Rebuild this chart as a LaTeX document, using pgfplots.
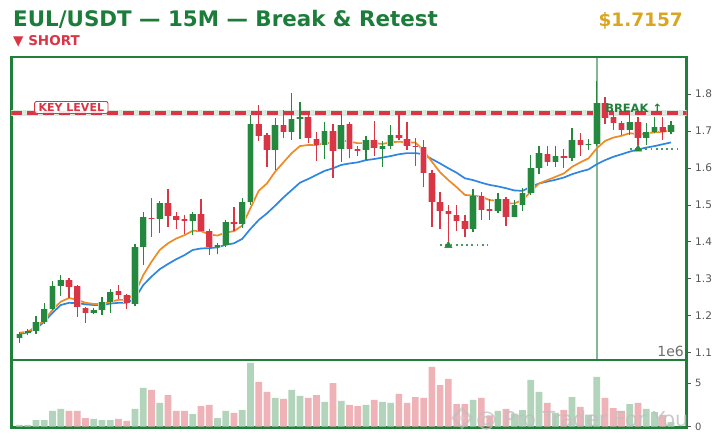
\documentclass[border=0pt]{standalone}
\usepackage{fontspec}
\setmainfont{DejaVu Sans}
\usepackage{pgfplots}
\usepackage{pgfplotstable}
\pgfplotsset{compat=1.18}
\usetikzlibrary{shapes.geometric}

\definecolor{titleG}{HTML}{1C7C3A}
\definecolor{frameG}{HTML}{1F7F3B}
\definecolor{cG}{HTML}{24883F}
\definecolor{cGl}{HTML}{BFDDC6}
\definecolor{cR}{HTML}{DA3545}
\definecolor{cRl}{HTML}{F2C0C4}
\definecolor{vG}{HTML}{B2D4BA}
\definecolor{vR}{HTML}{EEB2B7}
\definecolor{emaO}{HTML}{EE8B24}
\definecolor{emaB}{HTML}{2F86E0}
\definecolor{tickgray}{HTML}{555555}
\definecolor{keyband}{HTML}{DCE9DF}
\definecolor{gold}{HTML}{DAA520}

\pgfplotstableread{
i o h l c
0 1.141 1.157 1.127 1.151
1 1.154 1.164 1.147 1.160
2 1.160 1.199 1.151 1.182
3 1.184 1.234 1.178 1.218
4 1.219 1.294 1.216 1.281
5 1.281 1.309 1.254 1.297
9 1.208 1.221 1.205 1.216
10 1.216 1.252 1.203 1.236
11 1.238 1.272 1.207 1.264
14 1.233 1.393 1.226 1.385
15 1.387 1.481 1.338 1.467
17 1.463 1.511 1.425 1.505
21 1.457 1.482 1.419 1.476
24 1.386 1.396 1.366 1.392
25 1.392 1.459 1.387 1.455
27 1.447 1.518 1.437 1.509
28 1.509 1.743 1.500 1.719
31 1.649 1.736 1.594 1.716
33 1.698 1.803 1.676 1.732
34 1.732 1.779 1.678 1.738
37 1.662 1.725 1.624 1.700
39 1.650 1.743 1.617 1.716
42 1.649 1.685 1.621 1.676
44 1.652 1.673 1.603 1.658
45 1.658 1.716 1.651 1.689
55 1.435 1.543 1.426 1.524
58 1.484 1.533 1.477 1.516
60 1.468 1.513 1.466 1.500
61 1.500 1.545 1.483 1.533
62 1.531 1.635 1.527 1.601
63 1.601 1.658 1.583 1.640
65 1.615 1.658 1.603 1.633
67 1.626 1.709 1.619 1.676
69 1.662 1.678 1.649 1.666
70 1.666 1.834 1.660 1.775
74 1.703 1.743 1.689 1.725
76 1.682 1.721 1.662 1.698
77 1.698 1.737 1.694 1.712
79 1.698 1.727 1.691 1.716
}\greenC

\pgfplotstableread{
i o h l c
6 1.297 1.301 1.247 1.279
7 1.280 1.283 1.196 1.225
8 1.221 1.225 1.181 1.208
12 1.267 1.282 1.245 1.257
13 1.256 1.259 1.217 1.234
16 1.465 1.519 1.414 1.462
18 1.505 1.542 1.441 1.471
19 1.470 1.482 1.435 1.459
20 1.462 1.473 1.421 1.457
22 1.476 1.516 1.428 1.429
23 1.429 1.435 1.364 1.387
26 1.455 1.494 1.428 1.447
29 1.719 1.770 1.673 1.687
30 1.689 1.694 1.603 1.649
32 1.716 1.757 1.680 1.698
35 1.738 1.752 1.667 1.680
36 1.678 1.698 1.619 1.662
38 1.700 1.718 1.574 1.646
40 1.718 1.723 1.626 1.650
41 1.652 1.658 1.633 1.647
43 1.676 1.727 1.631 1.655
46 1.689 1.748 1.676 1.680
47 1.678 1.725 1.649 1.660
48 1.660 1.680 1.606 1.657
49 1.657 1.676 1.547 1.587
50 1.587 1.594 1.441 1.509
51 1.509 1.536 1.434 1.484
52 1.484 1.500 1.402 1.474
53 1.473 1.500 1.430 1.457
54 1.456 1.473 1.414 1.435
56 1.524 1.534 1.459 1.486
57 1.488 1.515 1.459 1.484
59 1.516 1.522 1.444 1.468
64 1.637 1.659 1.606 1.615
66 1.633 1.651 1.601 1.626
68 1.676 1.694 1.633 1.662
71 1.775 1.793 1.718 1.736
72 1.739 1.752 1.703 1.721
73 1.721 1.727 1.689 1.703
75 1.725 1.739 1.662 1.682
78 1.712 1.737 1.676 1.698
}\redC

\pgfplotstableread{
i v
0 0.20
1 0.20
2 0.77
3 0.77
4 1.81
5 2.04
9 0.89
10 0.77
11 0.77
14 2.04
15 4.46
17 2.73
21 1.46
24 1.00
25 1.81
27 1.92
28 7.34
31 3.31
33 4.23
34 3.54
37 2.85
39 2.96
42 2.50
44 2.85
45 2.73
55 3.08
58 1.81
60 1.50
61 1.90
62 5.38
63 4.00
65 1.60
67 3.42
69 1.40
70 5.73
74 2.61
76 2.04
77 1.69
79 0.54
}\volG

\pgfplotstableread{
i v
6 1.81
7 1.81
8 1.00
12 0.89
13 0.66
16 4.23
18 3.65
19 1.81
20 1.81
22 2.38
23 2.50
26 1.58
29 5.15
30 4.00
32 3.19
35 3.31
36 3.65
38 5.03
40 2.50
41 2.38
43 3.08
46 3.77
47 2.73
48 3.42
49 3.31
50 6.88
51 4.80
52 5.50
53 2.61
54 2.61
56 3.31
57 1.30
59 2.04
64 2.73
66 1.92
68 2.27
71 3.31
72 2.15
73 1.81
75 2.73
78 1.35
}\volR

\pgfplotstableread{
i f s
0 1.154 1.150
1 1.157 1.155
2 1.170 1.165
3 1.188 1.184
4 1.216 1.208
5 1.238 1.229
6 1.248 1.235
7 1.243 1.234
8 1.235 1.231
9 1.232 1.229
10 1.232 1.229
11 1.238 1.233
12 1.243 1.235
13 1.243 1.235
14 1.261 1.247
15 1.310 1.283
16 1.346 1.306
17 1.378 1.326
18 1.396 1.340
19 1.409 1.353
20 1.418 1.364
21 1.430 1.378
22 1.429 1.382
23 1.420 1.383
24 1.417 1.385
25 1.425 1.392
26 1.429 1.396
27 1.444 1.408
28 1.491 1.435
29 1.538 1.459
30 1.558 1.477
31 1.590 1.498
32 1.615 1.520
33 1.640 1.540
34 1.659 1.560
35 1.662 1.570
36 1.662 1.581
37 1.667 1.592
38 1.668 1.599
39 1.675 1.608
40 1.671 1.612
41 1.667 1.615
42 1.667 1.621
43 1.667 1.624
44 1.665 1.628
45 1.669 1.632
46 1.671 1.637
47 1.669 1.640
48 1.669 1.640
49 1.646 1.637
50 1.617 1.624
51 1.588 1.612
52 1.567 1.599
53 1.548 1.587
54 1.527 1.572
55 1.525 1.567
56 1.522 1.560
57 1.513 1.554
58 1.511 1.550
59 1.504 1.545
60 1.504 1.539
61 1.513 1.538
62 1.536 1.549
63 1.558 1.558
64 1.567 1.563
65 1.576 1.568
66 1.585 1.574
67 1.603 1.583
68 1.615 1.590
69 1.626 1.596
70 1.653 1.610
71 1.673 1.621
72 1.682 1.630
73 1.687 1.637
74 1.694 1.644
75 1.691 1.650
76 1.694 1.655
77 1.696 1.659
78 1.698 1.664
79 1.701 1.669
}\ema

\begin{document}
\begin{tikzpicture}[x=1pt,y=1pt]
\path[use as bounding box, fill=white] (0,0) rectangle (724,443);

% titles
\node[anchor=base west, inner sep=0pt, text=titleG, font=\fontsize{21.4}{24}\selectfont\bfseries] at (13,416) {EUL/USDT — 15M — Break \& Retest};
\node[anchor=base east, inner sep=0pt, text=gold, font=\fontsize{18.5}{22}\selectfont\bfseries] at (683,416) {\$1.7157};
\node[anchor=base west, inner sep=0pt, text=cR, font=\fontsize{13.5}{16}\selectfont\bfseries] at (13,397) {▼ SHORT};

% main price panel
\begin{axis}[
  at={(11.3pt,83pt)}, anchor=south west,
  scale only axis, width=675.4pt, height=303pt,
  xmin=-1, xmax=80.9, ymin=1.0803, ymax=1.9001,
  xtick=\empty,
  ytick={1.1,1.2,1.3,1.4,1.5,1.6,1.7,1.8},
  ytick pos=right, yticklabel pos=right,
  tick align=outside, major tick length=4pt,
  tick style={color=tickgray, line width=0.7pt},
  yticklabel style={font=\fontsize{10.5}{12}\selectfont, text=tickgray, xshift=1pt},
  /pgf/number format/assume math mode=true,
  /pgf/number format/fixed, /pgf/number format/precision=1,
  axis line style={draw=frameG, line width=2.7pt},
  clip mode=individual,
]
% breakout vertical line
\addplot[forget plot, line width=2.5pt, color=frameG, opacity=0.55] coordinates {(70,1.0803) (70,1.9001)};
% key level
\addplot[forget plot, line width=6pt, color=keyband] coordinates {(-1,1.7486) (80.9,1.7486)};
\addplot[forget plot, line width=3.2pt, color=cR, dash pattern=on 11pt off 5pt] coordinates {(-1,1.7486) (80.9,1.7486)};
% EMAs
\addplot[forget plot, line width=1.7pt, color=emaB] table[x=i, y=s] {\ema};
\addplot[forget plot, line width=1.7pt, color=emaO] table[x=i, y=f] {\ema};
% wicks
\addplot[forget plot, draw=none, error bars/.cd, y dir=plus, y explicit, error mark=none,
  error bar style={draw=cG, line width=1.3pt}] table[x=i, y=l, y error plus expr=\thisrow{h}-\thisrow{l}] {\greenC};
\addplot[forget plot, draw=none, error bars/.cd, y dir=plus, y explicit, error mark=none,
  error bar style={draw=cR, line width=1.3pt}] table[x=i, y=l, y error plus expr=\thisrow{h}-\thisrow{l}] {\redC};
% body halos
\addplot[forget plot, draw=none, error bars/.cd, y dir=plus, y explicit, error mark=none,
  error bar style={draw=cGl, line width=7.4pt}] table[x=i, y=o, y error plus expr=\thisrow{c}-\thisrow{o}] {\greenC};
\addplot[forget plot, draw=none, error bars/.cd, y dir=plus, y explicit, error mark=none,
  error bar style={draw=cRl, line width=7.4pt}] table[x=i, y=c, y error plus expr=\thisrow{o}-\thisrow{c}] {\redC};
% bodies
\addplot[forget plot, draw=none, error bars/.cd, y dir=plus, y explicit, error mark=none,
  error bar style={draw=cG, line width=5.6pt}] table[x=i, y=o, y error plus expr=\thisrow{c}-\thisrow{o}] {\greenC};
\addplot[forget plot, draw=none, error bars/.cd, y dir=plus, y explicit, error mark=none,
  error bar style={draw=cR, line width=5.6pt}] table[x=i, y=c, y error plus expr=\thisrow{o}-\thisrow{c}] {\redC};
% retest levels
\addplot[forget plot, line width=1.8pt, color=cG!85!white, dash pattern=on 1.8pt off 3.4pt] coordinates {(51,1.391) (56.8,1.391)};
\addplot[forget plot, only marks, mark=triangle*, mark size=4.2pt, color=cG] coordinates {(52,1.390)};
\addplot[forget plot, line width=1.8pt, color=cG!85!white, dash pattern=on 1.8pt off 3.4pt] coordinates {(74,1.652) (79.9,1.652)};
\addplot[forget plot, only marks, mark=triangle*, mark size=4.2pt, color=cG] coordinates {(75,1.651)};
% labels
\node[draw=cR, line width=0.9pt, fill=white, fill opacity=0.85, text opacity=1, rounded corners=2pt,
  text=cR, font=\fontsize{11}{12}\selectfont\bfseries, inner xsep=4pt, inner ysep=2pt] at (axis cs:6.28,1.7635) {KEY LEVEL};
\node[anchor=west, inner sep=0pt, text=frameG, font=\fontsize{11.5}{13}\selectfont\bfseries] at (axis cs:71.0,1.762) {BREAK ↑};
\end{axis}

% volume panel
\begin{axis}[
  at={(11.3pt,15.5pt)}, anchor=south west,
  scale only axis, width=675.4pt, height=67.5pt,
  xmin=-1, xmax=80.9, ymin=-0.09, ymax=7.68,
  xtick=\empty,
  ytick={0,5},
  ytick pos=right, yticklabel pos=right,
  tick align=outside, major tick length=4pt,
  tick style={color=tickgray, line width=0.7pt},
  yticklabel style={font=\fontsize{10}{12}\selectfont, text=tickgray, xshift=1pt},
  /pgf/number format/assume math mode=true,
  axis line style={draw=frameG, line width=2.7pt},
  clip mode=individual,
]
\addplot[forget plot, ybar, bar width=6.7pt, bar shift=0pt, fill=vG, draw=none] table[x=i, y=v] {\volG};
\addplot[forget plot, ybar, bar width=6.7pt, bar shift=0pt, fill=vR, draw=none] table[x=i, y=v] {\volR};
\end{axis}

% offset label of the volume axis
\node[anchor=south east, inner sep=0pt, text=tickgray!85, font=\fontsize{14}{16}\selectfont] at (684,86) {1e6};

% watermark
\node[diamond, draw=gray!50, line width=2.5pt, minimum size=20pt, inner sep=0pt, opacity=0.6] at (462,25) {};
\node[diamond, fill=gray!35, minimum size=7pt, inner sep=0pt, opacity=0.6] at (462,25) {};
\node[anchor=base west, inner sep=0pt, text=gray!50, opacity=0.8, font=\fontsize{20.6}{24}\selectfont] at (476,16) {@ Pro Trader For You};
\end{tikzpicture}
\end{document}
